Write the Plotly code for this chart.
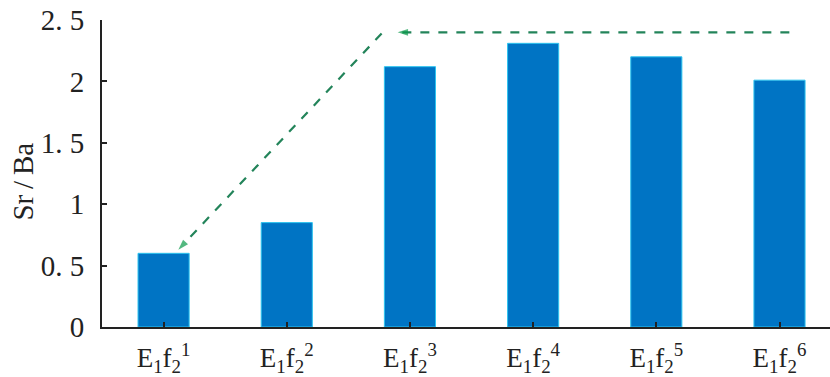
import plotly.graph_objects as go

# Sr/Ba ratio per sub-member
categories = ["E1f2-1", "E1f2-2", "E1f2-3", "E1f2-4", "E1f2-5", "E1f2-6"]
category_labels = [
    "E<sub>1</sub>f<sub>2</sub><sup>1</sup>",
    "E<sub>1</sub>f<sub>2</sub><sup>2</sup>",
    "E<sub>1</sub>f<sub>2</sub><sup>3</sup>",
    "E<sub>1</sub>f<sub>2</sub><sup>4</sup>",
    "E<sub>1</sub>f<sub>2</sub><sup>5</sup>",
    "E<sub>1</sub>f<sub>2</sub><sup>6</sup>",
]
sr_ba = [0.6, 0.85, 2.12, 2.31, 2.2, 2.01]

y_tick_values = [0, 0.5, 1, 1.5, 2, 2.5]
y_tick_labels = ["0", "0. 5", "1", "1. 5", "2", "2. 5"]
y_title = "Sr\u2009/\u2009Ba"

# trend guide arrows (x in category index units, y in Sr/Ba)
trend_top_x = [5.08, 1.9]
trend_top_y = [2.40, 2.40]
trend_diag_x = [1.77, 0.12]
trend_diag_y = [2.39, 0.63]

x_idx = list(range(len(categories)))
green = "#23845a"
font_family = "Times New Roman"

fig = go.Figure()
fig.add_trace(go.Bar(
    x=x_idx, y=sr_ba,
    marker=dict(color="#0074C4", line=dict(color="#2cc4ef", width=1)),
    showlegend=False,
))

for xs, ys in [(trend_top_x, trend_top_y), (trend_diag_x, trend_diag_y)]:
    fig.add_trace(go.Scatter(
        x=xs, y=ys, mode="lines+markers",
        line=dict(color=green, width=2.2, dash="dash"),
        marker=dict(symbol="arrow", angleref="previous", size=[0, 11],
                    color="#0a9a4a", line=dict(width=0)),
        showlegend=False, hoverinfo="skip",
    ))

# rotated y-axis title
fig.add_annotation(
    text=y_title, textangle=-90, showarrow=False,
    xref="paper", yref="paper", x=-0.108, y=0.475,
    xanchor="center", yanchor="middle",
    font=dict(family=font_family, size=29, color="#222"),
)

fig.update_layout(
    width=830, height=377,
    margin=dict(l=102, r=0, t=20, b=50),
    paper_bgcolor="white", plot_bgcolor="white",
    bargap=0.585,
    font=dict(family=font_family, size=29, color="#222"),
    xaxis=dict(
        range=[-0.5, 5.41],
        tickmode="array", tickvals=x_idx, ticktext=category_labels,
        ticks="inside", ticklen=5, tickwidth=1.5, tickcolor="#222",
        tickson="boundaries",
        showline=True, linecolor="#222", linewidth=2,
        showgrid=False, zeroline=False,
        ticklabelstandoff=6,
        tickfont=dict(family=font_family, size=27),
    ),
    yaxis=dict(
        range=[0, 2.5],
        tickmode="array", tickvals=y_tick_values, ticktext=y_tick_labels,
        ticks="inside", ticklen=5, tickwidth=1.5, tickcolor="#222",
        showline=True, linecolor="#222", linewidth=2,
        showgrid=False, zeroline=False,
        ticklabelstandoff=10,
        tickfont=dict(family=font_family, size=29),
    ),
)

fig.write_html("out.html")
